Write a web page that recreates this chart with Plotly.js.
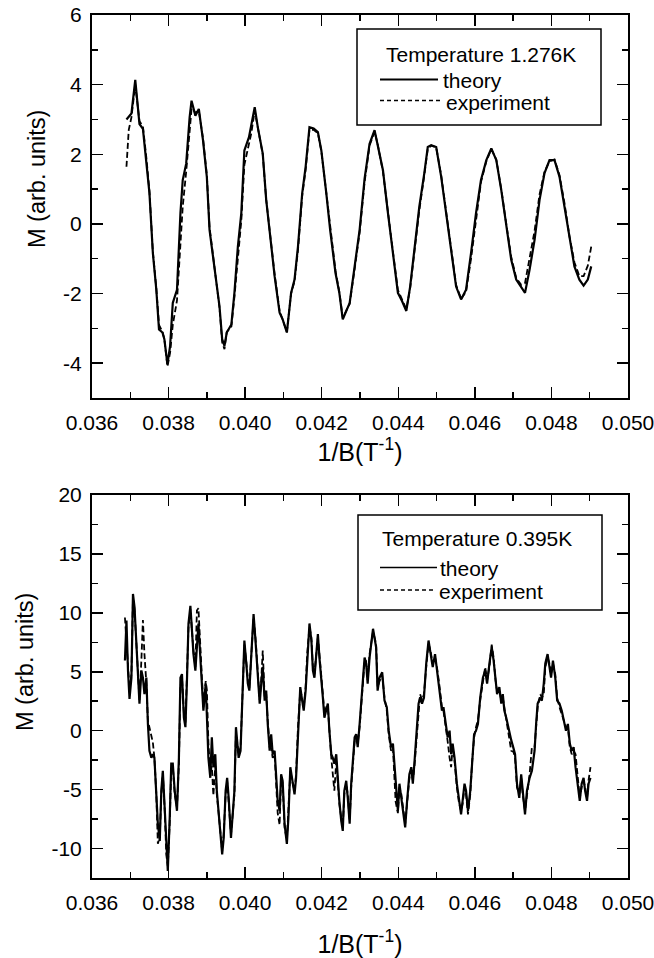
<!DOCTYPE html>
<html>
<head>
<meta charset="utf-8">
<script src="https://cdn.plot.ly/plotly-3.0.1.min.js"></script>
<style>html,body{margin:0;padding:0;background:#fff;}#chart{width:654px;height:958px;}</style>
</head>
<body>
<div id="chart"></div>
<script>
// ---- Top panel (T = 1.276 K) ----
const topX = [0.03690,0.03696,0.03703,0.03713,0.03724,0.03733,0.03742,0.03750,0.03759,0.03768,
0.03775,0.03784,0.03789,0.03797,0.03804,0.03811,0.03822,0.03831,0.03837,0.03846,
0.03855,0.03860,0.03870,0.03879,0.03890,0.03900,0.03907,0.03917,0.03925,0.03933,
0.03940,0.03946,0.03952,0.03964,0.03972,0.03981,0.03990,0.03998,0.04010,0.04016,
0.04025,0.04033,0.04046,0.04055,0.04068,0.04077,0.04090,0.04098,0.04109,0.04120,
0.04129,0.04138,0.04149,0.04158,0.04168,0.04179,0.04190,0.04199,0.04212,0.04222,
0.04236,0.04246,0.04255,0.04266,0.04273,0.04286,0.04299,0.04312,0.04325,0.04338,
0.04346,0.04360,0.04373,0.04386,0.04399,0.04410,0.04421,0.04431,0.04442,0.04455,
0.04468,0.04477,0.04486,0.04499,0.04512,0.04525,0.04538,0.04551,0.04564,0.04577,
0.04590,0.04603,0.04616,0.04630,0.04643,0.04656,0.04669,0.04682,0.04695,0.04708,
0.04721,0.04731,0.04743,0.04756,0.04769,0.04782,0.04795,0.04808,0.04821,0.04834,
0.04847,0.04860,0.04873,0.04884,0.04895,0.04904];
const topTheory = [3.0,3.07,3.17,4.14,2.87,2.73,1.83,0.89,-0.84,-1.89,
-3.03,-3.12,-3.31,-4.03,-3.51,-2.27,-1.89,0.31,1.26,1.73,
3.06,3.54,3.11,3.3,2.4,1.34,-0.17,-1.03,-1.8,-2.37,
-3.31,-3.5,-3.12,-2.89,-1.98,-0.65,0.31,2.11,2.49,2.87,
3.35,2.78,2.02,0.69,-0.65,-1.5,-2.55,-2.74,-3.12,-1.98,
-1.6,-0.65,0.88,1.64,2.78,2.74,2.64,2.11,0.88,-0.17,
-1.41,-1.98,-2.74,-2.45,-2.27,-1.22,-0.17,1.3,2.3,2.69,
2.3,1.54,0.31,-0.84,-1.98,-2.22,-2.5,-1.8,-0.65,0.5,
1.46,2.21,2.26,2.21,1.36,0.31,-0.84,-1.8,-2.17,-1.89,
-0.84,0.31,1.26,1.83,2.17,1.83,0.97,-0.08,-1.03,-1.6,
-1.8,-1.98,-1.31,-0.46,0.69,1.46,1.83,1.83,1.36,0.5,
-0.46,-1.22,-1.6,-1.77,-1.6,-1.22];
const topExperiment = [1.64,2.7,3.06,4.0,2.95,2.8,1.9,0.95,-0.8,-1.85,
-2.9,-3.1,-3.3,-4.1,-3.7,-2.9,-2.2,-0.5,0.5,1.5,
2.6,3.3,3.2,3.25,2.45,1.4,-0.1,-1.0,-1.75,-2.4,
-3.4,-3.6,-3.1,-2.95,-2.1,-0.9,0.1,1.7,2.3,2.6,
3.25,2.8,2.0,0.7,-0.6,-1.45,-2.5,-2.75,-3.1,-2.0,
-1.65,-0.75,0.8,1.55,2.7,2.7,2.6,2.1,0.9,-0.15,
-1.35,-1.95,-2.7,-2.45,-2.3,-1.3,-0.25,1.2,2.25,2.65,
2.3,1.5,0.3,-0.8,-1.9,-2.2,-2.45,-1.85,-0.75,0.4,
1.4,2.15,2.25,2.2,1.4,0.35,-0.8,-1.75,-2.15,-1.95,
-1.0,0.15,1.2,1.8,2.15,1.85,1.0,0.0,-0.95,-1.55,
-1.75,-1.7,-1.0,-0.2,0.85,1.5,1.8,1.85,1.4,0.6,
-0.35,-1.1,-1.5,-1.5,-1.2,-0.65];

// ---- Bottom panel (T = 0.395 K) ----
const botX = [0.03686,0.03690,0.03694,0.03698,0.03703,0.03707,0.03711,0.03716,0.03720,0.03724,
0.03729,0.03733,0.03737,0.03742,0.03746,0.03750,0.03755,0.03759,0.03763,0.03768,
0.03772,0.03777,0.03781,0.03785,0.03790,0.03794,0.03798,0.03803,0.03807,0.03811,
0.03816,0.03822,0.03827,0.03831,0.03835,0.03840,0.03844,0.03848,0.03852,0.03857,
0.03861,0.03865,0.03870,0.03874,0.03878,0.03883,0.03887,0.03891,0.03897,0.03900,
0.03904,0.03909,0.03913,0.03917,0.03922,0.03926,0.03931,0.03936,0.03940,0.03944,
0.03949,0.03953,0.03957,0.03963,0.03967,0.03972,0.03976,0.03983,0.03988,0.03992,
0.03998,0.04003,0.04007,0.04011,0.04016,0.04022,0.04027,0.04033,0.04038,0.04042,
0.04046,0.04051,0.04055,0.04059,0.04064,0.04068,0.04072,0.04077,0.04081,0.04085,
0.04090,0.04094,0.04098,0.04103,0.04109,0.04113,0.04118,0.04123,0.04129,0.04133,
0.04138,0.04144,0.04149,0.04153,0.04158,0.04162,0.04168,0.04173,0.04177,0.04181,
0.04186,0.04190,0.04194,0.04199,0.04203,0.04207,0.04212,0.04216,0.04220,0.04225,
0.04229,0.04233,0.04238,0.04242,0.04246,0.04251,0.04255,0.04259,0.04264,0.04268,
0.04273,0.04277,0.04281,0.04286,0.04290,0.04294,0.04299,0.04306,0.04312,0.04316,
0.04320,0.04325,0.04334,0.04342,0.04346,0.04351,0.04358,0.04364,0.04370,0.04375,
0.04381,0.04386,0.04393,0.04399,0.04403,0.04408,0.04412,0.04418,0.04423,0.04429,
0.04434,0.04438,0.04442,0.04447,0.04453,0.04457,0.04462,0.04467,0.04473,0.04479,
0.04484,0.04490,0.04496,0.04501,0.04508,0.04514,0.04518,0.04523,0.04529,0.04534,
0.04538,0.04542,0.04547,0.04553,0.04558,0.04564,0.04568,0.04573,0.04577,0.04582,
0.04588,0.04593,0.04598,0.04603,0.04608,0.04614,0.04621,0.04627,0.04632,0.04638,
0.04644,0.04649,0.04654,0.04658,0.04664,0.04669,0.04673,0.04677,0.04682,0.04689,
0.04695,0.04701,0.04705,0.04710,0.04716,0.04721,0.04725,0.04731,0.04736,0.04743,
0.04749,0.04756,0.04760,0.04764,0.04771,0.04775,0.04780,0.04784,0.04790,0.04795,
0.04799,0.04804,0.04810,0.04815,0.04821,0.04827,0.04832,0.04838,0.04843,0.04848,
0.04853,0.04858,0.04863,0.04869,0.04874,0.04879,0.04884,0.04888,0.04893,0.04897,0.04902];
const botTheory = [5.95,9.35,5.1,2.7,4.5,11.6,10.5,7.4,4.5,2.3,
5.1,4.5,3.1,4.5,0.57,-1.7,-2.3,-2.0,-2.3,-5.1,
-7.9,-9.35,-5.1,-3.4,-6.5,-10.2,-11.9,-7.4,-2.8,-2.8,
-5.1,-6.8,-2.3,4.5,4.8,1.1,0.3,4.25,9.1,10.6,
7.9,6.5,5.1,7.65,9.1,6.2,3.4,1.7,4.0,1.1,
-2.3,-4.0,-0.57,-3.1,-2.0,-5.1,-6.8,-9.1,-10.5,-9.1,
-5.1,-4.0,-5.7,-9.1,-7.0,-5.1,0.3,-2.3,-1.7,2.3,
7.65,5.7,4.0,3.4,6.2,9.9,7.65,4.5,2.3,4.0,
5.4,2.55,3.4,0.57,-1.7,-0.3,-2.0,-1.7,-4.0,-5.95,
-6.8,-3.7,-4.25,-7.9,-9.6,-7.4,-3.1,-4.0,-5.4,-4.0,
0,3.7,2.55,1.7,3.4,6.2,9.1,7.65,5.1,4.5,
6.8,8.2,6.2,4.5,2.8,1.1,1.7,2.3,0,-2.0,
-2.3,-2.8,-2.0,-4.5,-5.95,-7.65,-8.5,-5.1,-4.25,-5.7,
-7.9,-4.5,-2.3,-0.57,-0.3,-1.4,0.57,4.0,6.2,5.7,
4.0,6.2,8.65,7.1,3.4,4.5,4.95,2.55,2.0,0,
-1.4,-1.1,-4.5,-6.8,-4.5,-5.7,-6.8,-8.2,-5.95,-3.7,
-3.1,-4.5,-2.8,-0.57,2.3,2.8,2.3,2.8,5.7,7.65,
6.5,5.4,6.5,5.1,3.4,1.7,2.0,0.85,-0.57,0,
-2.0,-1.1,-2.3,-4.5,-5.7,-7.1,-5.95,-4.5,-5.1,-6.8,
-5.1,-2.3,-0.3,0,0.57,2.8,4.5,5.1,4.0,5.7,
7.1,5.95,4.0,3.1,3.7,2.3,3.1,1.7,1.1,0,
-0.8,-1.5,-2.0,-4.5,-5.7,-3.7,-5.1,-7.1,-5.1,-4.0,
-3.4,-1.7,0.57,2.3,2.8,2.55,4.0,5.7,6.5,5.4,
4.5,5.95,4.5,2.55,2.3,1.7,0.85,0,0.57,-1.1,
-1.7,-1.4,-3.1,-4.5,-5.95,-4.5,-4.0,-5.1,-5.95,-4.5,-4.0];
const botExperiment = [9.6,7.5,5.5,3.5,4.8,11.2,10.3,7.6,4.8,2.6,
6.0,9.4,6.5,4.0,0.85,0.3,-0.3,-1.0,-2.3,-5.4,
-9.6,-9.0,-5.4,-3.6,-6.8,-10.5,-11.5,-7.8,-3.2,-3.0,
-5.4,-6.5,-2.8,3.8,4.5,1.5,0.6,4.0,8.8,10.3,
8.2,6.8,5.4,10.2,10.4,6.8,3.6,2.0,4.2,3.5,
-1.0,-3.6,-3.0,-5.5,-3.0,-5.4,-7.1,-9.3,-10.2,-8.8,
-5.4,-4.3,-6.0,-8.8,-7.3,-5.4,-0.2,-2.0,-1.4,2.0,
7.3,5.9,4.3,3.6,6.0,9.6,7.9,4.8,2.6,4.3,
6.8,2.8,3.1,0.9,-1.4,-1.5,-2.3,-2.0,-4.3,-7.0,
-8.0,-4.0,-4.5,-8.2,-9.3,-7.1,-3.4,-4.3,-5.1,-3.7,
0.3,3.4,2.8,2.0,3.7,6.5,8.8,7.9,5.4,4.8,
6.5,7.9,6.5,4.8,3.1,1.4,2.0,2.0,-0.3,-2.3,
-3.7,-5.1,-2.6,-4.8,-6.2,-7.4,-8.2,-5.4,-4.5,-5.4,
-7.6,-4.8,-2.6,-0.9,-0.6,-1.1,0.3,3.7,5.9,5.9,
4.3,6.5,8.4,7.4,3.7,4.2,4.7,2.8,1.7,-0.3,
-1.7,-1.4,-6.0,-7.0,-4.8,-5.4,-6.5,-7.9,-6.2,-4.0,
-3.4,-4.2,-3.1,-0.9,2.0,3.1,2.6,3.1,5.4,7.4,
6.8,5.7,6.2,5.4,3.7,2.0,1.7,0.6,-0.9,-2.3,
-3.1,-1.4,-2.6,-4.8,-6.0,-6.8,-6.2,-4.8,-5.4,-7.1,
-5.4,-2.6,-0.6,0.3,0.9,2.6,4.2,5.4,4.3,5.4,
7.3,6.2,4.3,3.4,3.4,2.6,2.8,2.0,0.8,-0.6,
-1.7,-1.8,-2.3,-4.8,-5.4,-4.0,-5.4,-6.8,-5.4,-3.7,
-1.4,-1.4,0.3,2.0,3.1,2.8,3.1,5.4,6.2,5.7,
4.8,5.7,4.8,2.8,2.0,1.4,1.1,0.3,0.3,-1.4,
-2.0,-1.7,-2.0,-4.2,-5.7,-4.8,-4.3,-4.8,-5.7,-4.2,-3.1];

// ---- Tick labels ----
const xTickVals = [0.036,0.038,0.040,0.042,0.044,0.046,0.048,0.050];
const xTickText = ['0.036','0.038','0.040','0.042','0.044','0.046','0.048','0.050'];
const topYTickVals = [-4,-2,0,2,4,6];
const topYTickText = ['-4','-2','0','2','4','6'];
const botYTickVals = [-10,-5,0,5,10,15,20];
const botYTickText = ['-10','-5','0','5','10','15','20'];

const seriesNames = ['theory', 'experiment'];
const legendTitles = ['Temperature 1.276K', 'Temperature 0.395K'];
const xTitle = '1/B(T<sup>-1</sup>)';
const yTitle = 'M (arb. units)';

const FONT = 'Liberation Sans, Arial, Helvetica, sans-serif';
const BLACK = '#000';
const theoryLine = {color: BLACK, width: 2.2};
const expLine = {color: BLACK, width: 1.8, dash: '6px,3px'};

// page-pixel -> paper helpers (plot area: x 92..628, y 15..878)
const W = 654, H = 958, ML = 92, MR = 26, MT = 15, MB = 80;
const px = v => (v - ML) / (W - ML - MR);
const py = v => (H - MB - v) / (H - MT - MB);

const traces = [
  {x: topX, y: topTheory, name: seriesNames[0], mode: 'lines', line: theoryLine, xaxis: 'x', yaxis: 'y', showlegend: false},
  {x: topX, y: topExperiment, name: seriesNames[1], mode: 'lines', line: expLine, xaxis: 'x', yaxis: 'y', showlegend: false},
  {x: botX, y: botTheory, name: seriesNames[0], mode: 'lines', line: theoryLine, xaxis: 'x2', yaxis: 'y2', showlegend: false},
  {x: botX, y: botExperiment, name: seriesNames[1], mode: 'lines', line: expLine, xaxis: 'x2', yaxis: 'y2', showlegend: false}
];

function xax(anchor, standoff) {
  return {
    anchor: anchor, domain: [0, 1], range: [0.036, 0.050],
    tickmode: 'array', tickvals: xTickVals, ticktext: xTickText, ticklabeloverflow: 'allow',
    ticks: 'inside', ticklen: 11, tickwidth: 1.5, tickcolor: BLACK, ticklabelstandoff: 5,
    minor: {tickmode: 'linear', tick0: 0.036, dtick: 0.001, ticks: 'inside', ticklen: 6, tickwidth: 1.5, tickcolor: BLACK},
    showline: true, linewidth: 2, linecolor: BLACK, mirror: 'allticks',
    showgrid: false, zeroline: false,
    tickfont: {family: FONT, size: 21, color: BLACK},
    title: {text: xTitle, font: {family: FONT, size: 25, color: BLACK}, standoff: standoff},
    automargin: false
  };
}
function yax(anchor, domain, range, vals, text, minor) {
  return {
    anchor: anchor, domain: domain, range: range,
    tickmode: 'array', tickvals: vals, ticktext: text, ticklabeloverflow: 'allow',
    ticks: 'inside', ticklen: 11, tickwidth: 1.5, tickcolor: BLACK, ticklabelstandoff: 4,
    minor: {tickmode: 'linear', tick0: 0, dtick: minor, ticks: 'inside', ticklen: 6, tickwidth: 1.5, tickcolor: BLACK},
    showline: true, linewidth: 2, linecolor: BLACK, mirror: 'allticks',
    showgrid: false, zeroline: false,
    tickfont: {family: FONT, size: 21, color: BLACK},
    automargin: false
  };
}

const annFont = {family: FONT, size: 21, color: BLACK};
function txt(text, x, y) {
  return {text: text, xref: 'paper', yref: 'paper', x: px(x), y: py(y),
    xanchor: 'left', yanchor: 'middle', showarrow: false, font: annFont};
}

// legends drawn as box + sample lines + labels, and rotated y titles
const shapes = [
  {type: 'rect', xref: 'paper', yref: 'paper', x0: px(357), x1: px(601), y0: py(125), y1: py(29), line: {color: BLACK, width: 1.5}},
  {type: 'line', xref: 'paper', yref: 'paper', x0: px(380), x1: px(438), y0: py(79.5), y1: py(79.5), line: {color: BLACK, width: 2}},
  {type: 'line', xref: 'paper', yref: 'paper', x0: px(380), x1: px(441), y0: py(100.5), y1: py(100.5), line: {color: BLACK, width: 1.4, dash: '4px,3px'}},
  {type: 'rect', xref: 'paper', yref: 'paper', x0: px(358), x1: px(602), y0: py(610), y1: py(515), line: {color: BLACK, width: 1.5}},
  {type: 'line', xref: 'paper', yref: 'paper', x0: px(380), x1: px(437), y0: py(567.5), y1: py(567.5), line: {color: BLACK, width: 1.6}},
  {type: 'line', xref: 'paper', yref: 'paper', x0: px(380), x1: px(435), y0: py(590), y1: py(590), line: {color: BLACK, width: 1.4, dash: '4px,3px'}}
];
const annotations = [
  txt(legendTitles[0], 384, 55),
  txt(seriesNames[0], 441, 80),
  txt(seriesNames[1], 444, 102),
  txt(legendTitles[1], 380, 538),
  txt(seriesNames[0], 438, 568),
  txt(seriesNames[1], 437, 591),
  {text: yTitle, xref: 'paper', yref: 'paper', x: px(37), y: py(179), xanchor: 'center', yanchor: 'middle',
   textangle: -90, showarrow: false, font: {family: FONT, size: 23.5, color: BLACK}},
  {text: yTitle, xref: 'paper', yref: 'paper', x: px(25), y: py(662), xanchor: 'center', yanchor: 'middle',
   textangle: -90, showarrow: false, font: {family: FONT, size: 23.5, color: BLACK}}
];

const layout = {
  width: W, height: H,
  margin: {l: ML, r: MR, t: MT, b: MB},
  paper_bgcolor: '#fff', plot_bgcolor: '#fff',
  font: {family: FONT, color: BLACK},
  showlegend: false,
  xaxis: xax('y', 6),
  yaxis: yax('x', [0.5562, 1], [-5, 6], topYTickVals, topYTickText, 1),
  xaxis2: xax('y2', 30),
  yaxis2: yax('x2', [0, 0.4438], [-12.5, 20], botYTickVals, botYTickText, 2.5),
  shapes: shapes,
  annotations: annotations
};

Plotly.newPlot('chart', traces, layout, {displayModeBar: false, staticPlot: true});
</script>
</body>
</html>
